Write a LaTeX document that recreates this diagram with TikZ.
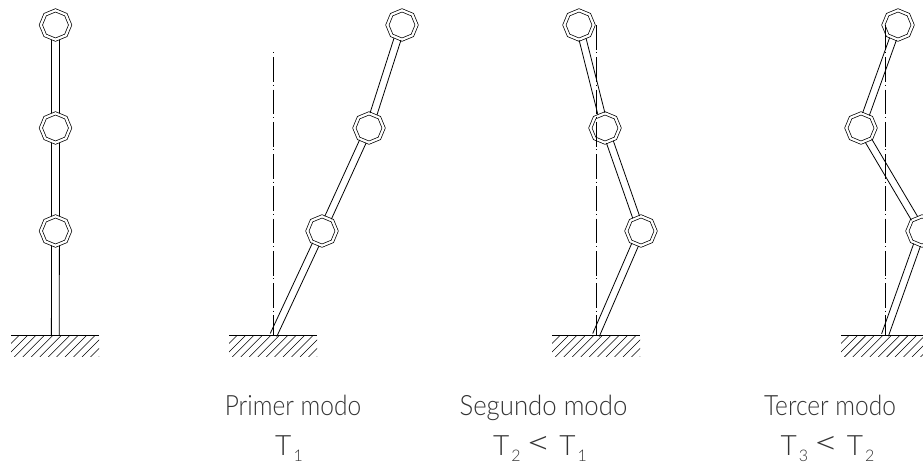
\documentclass[tikz,border=0pt]{standalone}
\usepackage{fontspec}
\usepackage{graphicx}
\setmainfont{Lato Light}
\usetikzlibrary{shapes.geometric,calc}
\newcommand{\Tsub}[1]{T\kern1.6pt\raisebox{-5.2pt}{\fontsize{12}{12}\selectfont #1}}
\newcommand{\Lss}{\kern4pt\raisebox{0.6pt}{\scalebox{1.55}[1.2]{<}}\kern6pt}
\newcommand{\Capt}[2]{\scalebox{#1}[1]{#2}}
\tikzset{
  x=0.75pt,y=-0.75pt,
  joint/.style={regular polygon,regular polygon sides=8,shape border rotate=22.5,draw=black,double=white,double distance=1.7pt,line width=0.55pt,minimum size=22pt,inner sep=0pt,outer sep=0.7pt},
  memberline/.style={draw=black,line width=0.6pt},
  axisline/.style={draw=black,line width=0.5pt,dash pattern=on 18.6pt off 2pt on 0.6pt off 3pt},
  groundline/.style={draw=black,line width=0.55pt},
  hatchline/.style={draw=black,line width=0.4pt},
  caption/.style={font=\fontsize{21}{24}\selectfont,text=black!80,inner sep=0pt,anchor=base}
}
% two parallel lines between two named points; #1 half gap, #4/#5 trims at each end
\newcommand{\member}[5]{%
  \draw[memberline,shorten <=#4,shorten >=#5] ($(#2)!#1!90:(#3)$) -- ($(#3)!#1!-90:(#2)$);
  \draw[memberline,shorten <=#4,shorten >=#5] ($(#2)!#1!-90:(#3)$) -- ($(#3)!#1!90:(#2)$);
}
\newcommand{\ground}[3]{%
  \coordinate (#3L) at (#1,335); \coordinate (#3R) at (#2,335);
  \begin{scope}
    \clip (#1,335) rectangle (#2,356);
    \foreach \k in {0,...,14} {\draw[hatchline] ({#1+\k*8.45},335) -- ++(-22,22);}
  \end{scope}
  \draw[groundline] (#3L) -- (#3R);
}
\begin{document}
\begin{tikzpicture}
\useasboundingbox (0,0) rectangle (923,465);
\clip (0,0) rectangle (923,465);
% column 0
\ground{11}{99}{gz}
\coordinate (bz) at (55.3,335);
\node[joint] (z1) at (55.5,231) {};
\node[joint] (z2) at (55.5,128) {};
\node[joint] (z3) at (55.5,25) {};
\member{2.95pt}{bz}{z1}{0pt}{11pt}
\member{2.95pt}{z1}{z2}{11pt}{11pt}
\member{2.95pt}{z2}{z3}{11pt}{11pt}
% column 1
\ground{229}{317}{ga}
\coordinate (ba) at (273.5,335);
\coordinate (ta) at (273,50);
\coordinate (ea) at (273,335);
\node[joint] (a1) at (322,231) {};
\node[joint] (a2) at (369,128) {};
\node[joint] (a3) at (402,25) {};
\member{2.7pt}{ba}{a1}{0pt}{11pt}
\member{2.7pt}{a1}{a2}{11pt}{11pt}
\member{2.7pt}{a2}{a3}{11pt}{11pt}
\draw[axisline,dash phase=18.75pt] (ta) -- (ea);
% column 2
\ground{552}{640}{gb}
\coordinate (bb) at (596,335);
\coordinate (tb) at (596,25);
\node[joint] (b1) at (641,231) {};
\node[joint] (b2) at (605,128) {};
\node[joint] (b3) at (579,25) {};
\member{2.7pt}{bb}{b1}{0pt}{11pt}
\member{2.7pt}{b1}{b2}{11pt}{11pt}
\member{2.7pt}{b2}{b3}{11pt}{11pt}
\draw[axisline] (tb) -- (bb);
% column 3
\ground{841}{929}{gc}
\coordinate (bc) at (885,335);
\coordinate (tc) at (885,25);
\node[joint] (c1) at (922,231) {};
\node[joint] (c2) at (861,128) {};
\node[joint] (c3) at (898,25) {};
\member{2.7pt}{bc}{c1}{0pt}{11pt}
\member{2.7pt}{c1}{c2}{11pt}{11pt}
\member{2.7pt}{c2}{c3}{11pt}{11pt}
\draw[axisline] (tc) -- (bc);
% captions
\node[caption] (l1) at (293,415) {\Capt{0.875}{Primer modo}};
\node[caption] (l1b) at (289,455) {\Tsub{1}};
\node[caption] (l2) at (543.5,415) {\Capt{0.92}{Segundo modo}};
\node[caption] (l2b) at (540,455) {\Tsub{2}\Lss\Tsub{1}};
\node[caption] (l3) at (830,415) {\Capt{0.875}{Tercer modo}};
\node[caption] (l3b) at (827.5,455) {\Tsub{3}\Lss\Tsub{2}};
\end{tikzpicture}
\end{document}
